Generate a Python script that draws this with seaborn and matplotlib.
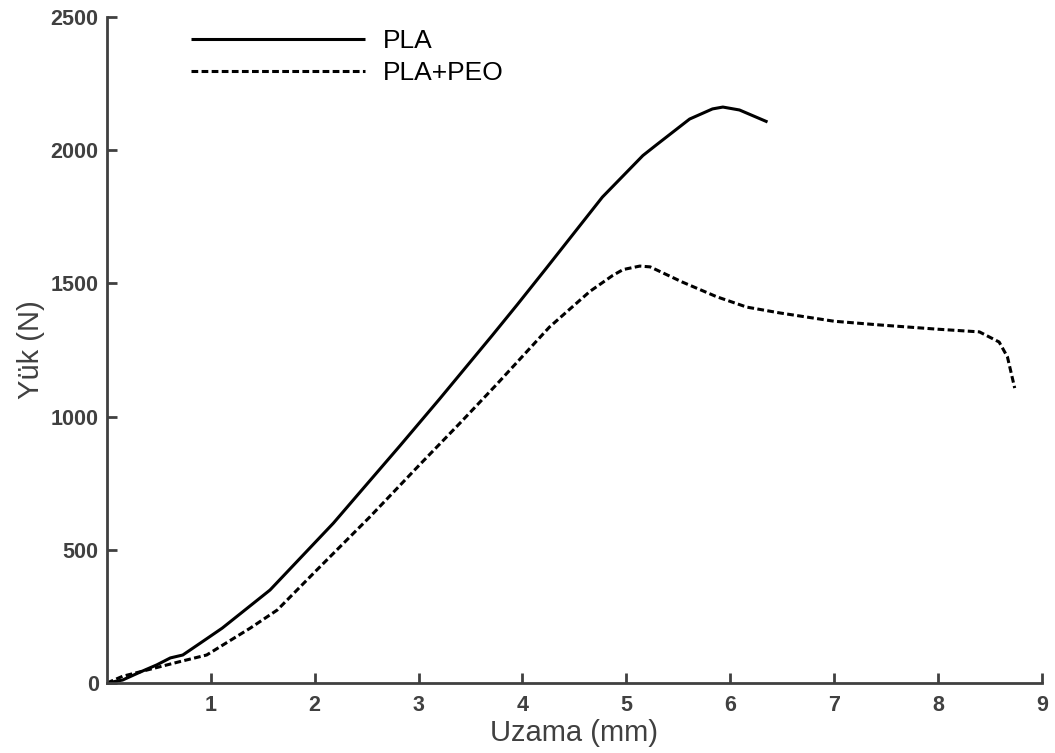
import pandas as pd
import matplotlib.pyplot as plt
import seaborn as sns

# values
pla_x = [0.0, 0.15, 0.32, 0.48, 0.61, 0.73, 0.90, 1.11, 1.57, 2.18, 2.44, 2.82, 3.20,
         3.71, 3.95, 4.23, 4.77, 5.16, 5.29, 5.61, 5.83, 5.93, 6.09, 6.36]
pla_y = [0, 11, 41, 68, 94, 105, 150, 206, 349, 600, 718, 890, 1065,
         1305, 1420, 1557, 1824, 1980, 2020, 2117, 2155, 2162, 2151, 2106]

peo_x = [0.0, 0.15, 0.39, 0.70, 0.96, 1.38, 1.64, 2.02, 2.53, 3.00, 3.40, 3.75, 4.26,
         4.65, 4.87, 4.97, 5.13, 5.23, 5.54, 5.87, 6.16, 6.48, 7.00, 7.44, 8.00, 8.40,
         8.59, 8.67, 8.74]
peo_y = [0, 25, 49, 80, 105, 206, 274, 424, 623, 815, 976, 1120, 1336,
         1470, 1530, 1552, 1565, 1562, 1505, 1450, 1411, 1389, 1358, 1344, 1328, 1318,
         1280, 1224, 1107]

series_names = ["PLA", "PLA+PEO"]

df = pd.concat([
    pd.DataFrame({"x": pla_x, "y": pla_y, "seri": series_names[0]}),
    pd.DataFrame({"x": peo_x, "y": peo_y, "seri": series_names[1]}),
], ignore_index=True)

sns.set_style("ticks")
plt.rcParams["font.family"] = ["Liberation Sans", "DejaVu Sans"]
grey = "#404040"

fig = plt.figure(figsize=(10.55, 7.53), dpi=100)
ax = fig.add_axes([0.1014, 0.093, 0.886, 0.8844])

sns.lineplot(data=df, x="x", y="y", style="seri", hue="seri",
             palette=["black", "black"], dashes=[(1, 0), (2.2, 1.1)],
             linewidth=2.2, sort=False, estimator=None, ax=ax)

ax.set_xlim(0, 9)
ax.set_ylim(0, 2500)
ax.set_xticks(range(1, 10))
ax.set_yticks(range(0, 2501, 500))
ax.set_xlabel("Uzama (mm)", fontsize=21, color=grey, labelpad=2)
ax.set_ylabel("Yük (N)", fontsize=21, color=grey, labelpad=4)

for side in ["top", "right"]:
    ax.spines[side].set_visible(False)
for side in ["left", "bottom"]:
    ax.spines[side].set_color(grey)
    ax.spines[side].set_linewidth(2)

ax.tick_params(direction="in", length=7, width=2, color=grey, labelcolor=grey,
               labelsize=15.5)
ax.tick_params(axis="x", pad=9)
ax.tick_params(axis="y", pad=6)
for lab in ax.get_xticklabels() + ax.get_yticklabels():
    lab.set_fontweight("bold")

handles, labels = ax.get_legend_handles_labels()
leg = ax.legend(handles, labels, loc="upper left", bbox_to_anchor=(0.064, 1.017),
                frameon=False, fontsize=19, handlelength=6.6, handletextpad=0.68,
                labelspacing=0.3)
for txt in leg.get_texts():
    txt.set_color("black")

fig.savefig("out.png", dpi=100)
